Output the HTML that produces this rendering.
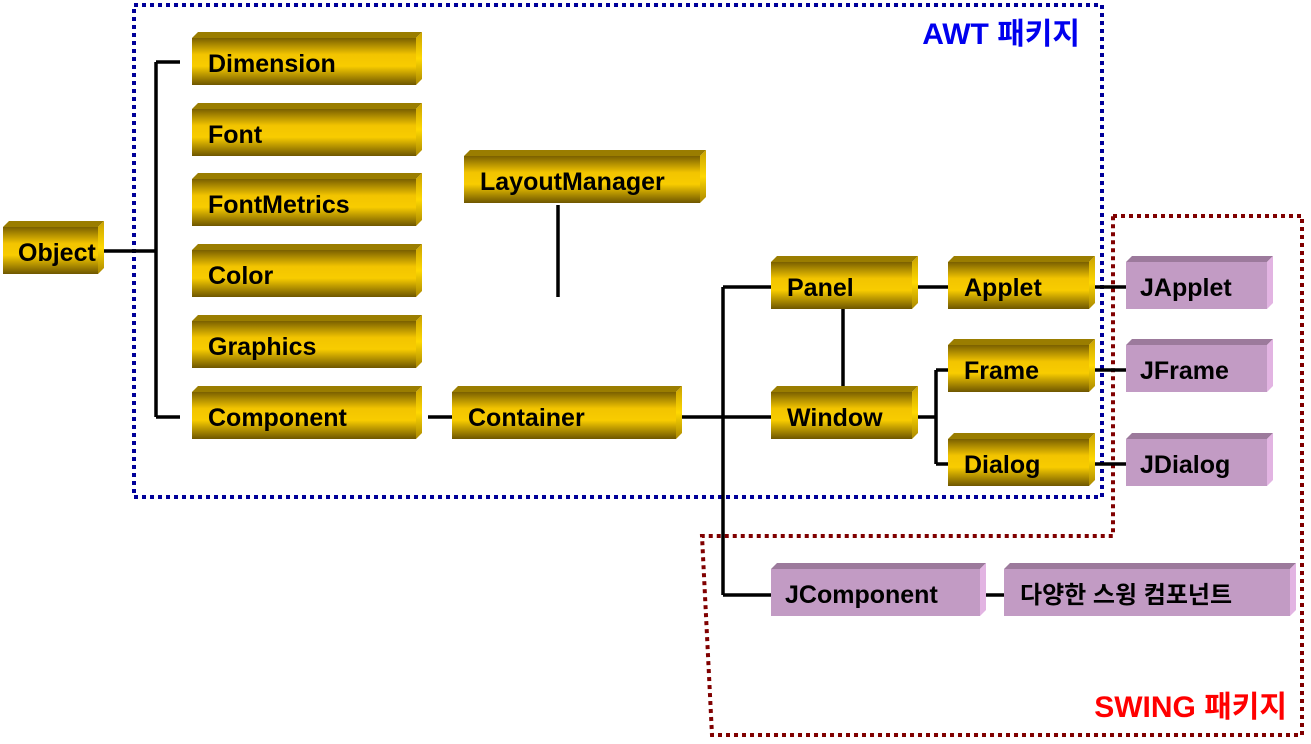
<!DOCTYPE html>
<html><head><meta charset="utf-8"><style>
html,body{margin:0;padding:0;background:#fff;width:1311px;height:744px;overflow:hidden}
text{font-family:"Liberation Sans","Noto Sans CJK KR",sans-serif;font-weight:bold}
</style></head><body>
<svg width="1311" height="744" viewBox="0 0 1311 744" xmlns="http://www.w3.org/2000/svg">
<defs>
<linearGradient id="gf" x1="0" y1="0" x2="0" y2="1">
<stop offset="0" stop-color="#7a6000"/><stop offset="0.35" stop-color="#f2c400"/><stop offset="0.6" stop-color="#f8cc00"/><stop offset="1" stop-color="#6e5600"/></linearGradient>
<linearGradient id="gs" x1="0" y1="0" x2="0" y2="1">
<stop offset="0" stop-color="#c9a200"/><stop offset="0.5" stop-color="#ffd800"/><stop offset="1" stop-color="#a88600"/></linearGradient>
</defs>
<g id="boxes"></g>
<!-- dotted frames -->
<rect x="134" y="5" width="968" height="492" fill="none" stroke="#000099" stroke-width="4" stroke-dasharray="4 4"/>
<polygon points="1113,216 1302,216 1302,735 712,735 702,536 1113,536" fill="none" stroke="#800000" stroke-width="4" stroke-dasharray="4 4"/>
<text x="1080" y="44" text-anchor="end" font-size="30" fill="#0000ee">AWT 패키지</text>
<text x="1287" y="717" text-anchor="end" font-size="30" fill="#ff0000">SWING 패키지</text>
<!-- lines -->
<g stroke="#000" stroke-width="3.5" fill="none">
<path d="M104 251H156M156 62V417M156 62H180M156 417H180"/>
<path d="M428 417H452M558 205V297M682 417H771M723 287V595M723 287H771M723 595H771"/>
<path d="M843 309V386M918 287H948M918 417H936M936 370V464M936 370H948M936 464H948"/>
<path d="M1095 287H1126M1095 370H1126M1095 464H1126M986 595H1004"/>
</g>
<!-- gold boxes -->
<g font-size="25">
<g transform="translate(3,221)"><polygon points="0,6 6,0 101,0 95,6" fill="#9a7d00"/><polygon points="95,6 101,0 101,47 95,53" fill="url(#gs)"/><rect x="0" y="6" width="95" height="47" fill="url(#gf)"/><text x="15" y="40">Object</text></g>
<g transform="translate(192,32)"><polygon points="0,6 6,0 230,0 224,6" fill="#9a7d00"/><polygon points="224,6 230,0 230,47 224,53" fill="url(#gs)"/><rect x="0" y="6" width="224" height="47" fill="url(#gf)"/><text x="16" y="40">Dimension</text></g>
<g transform="translate(192,103)"><polygon points="0,6 6,0 230,0 224,6" fill="#9a7d00"/><polygon points="224,6 230,0 230,47 224,53" fill="url(#gs)"/><rect x="0" y="6" width="224" height="47" fill="url(#gf)"/><text x="16" y="40">Font</text></g>
<g transform="translate(192,173)"><polygon points="0,6 6,0 230,0 224,6" fill="#9a7d00"/><polygon points="224,6 230,0 230,47 224,53" fill="url(#gs)"/><rect x="0" y="6" width="224" height="47" fill="url(#gf)"/><text x="16" y="40">FontMetrics</text></g>
<g transform="translate(192,244)"><polygon points="0,6 6,0 230,0 224,6" fill="#9a7d00"/><polygon points="224,6 230,0 230,47 224,53" fill="url(#gs)"/><rect x="0" y="6" width="224" height="47" fill="url(#gf)"/><text x="16" y="40">Color</text></g>
<g transform="translate(192,315)"><polygon points="0,6 6,0 230,0 224,6" fill="#9a7d00"/><polygon points="224,6 230,0 230,47 224,53" fill="url(#gs)"/><rect x="0" y="6" width="224" height="47" fill="url(#gf)"/><text x="16" y="40">Graphics</text></g>
<g transform="translate(192,386)"><polygon points="0,6 6,0 230,0 224,6" fill="#9a7d00"/><polygon points="224,6 230,0 230,47 224,53" fill="url(#gs)"/><rect x="0" y="6" width="224" height="47" fill="url(#gf)"/><text x="16" y="40">Component</text></g>
<g transform="translate(464,150)"><polygon points="0,6 6,0 242,0 236,6" fill="#9a7d00"/><polygon points="236,6 242,0 242,47 236,53" fill="url(#gs)"/><rect x="0" y="6" width="236" height="47" fill="url(#gf)"/><text x="16" y="40">LayoutManager</text></g>
<g transform="translate(452,386)"><polygon points="0,6 6,0 230,0 224,6" fill="#9a7d00"/><polygon points="224,6 230,0 230,47 224,53" fill="url(#gs)"/><rect x="0" y="6" width="224" height="47" fill="url(#gf)"/><text x="16" y="40">Container</text></g>
<g transform="translate(771,256)"><polygon points="0,6 6,0 147,0 141,6" fill="#9a7d00"/><polygon points="141,6 147,0 147,47 141,53" fill="url(#gs)"/><rect x="0" y="6" width="141" height="47" fill="url(#gf)"/><text x="16" y="40">Panel</text></g>
<g transform="translate(771,386)"><polygon points="0,6 6,0 147,0 141,6" fill="#9a7d00"/><polygon points="141,6 147,0 147,47 141,53" fill="url(#gs)"/><rect x="0" y="6" width="141" height="47" fill="url(#gf)"/><text x="16" y="40">Window</text></g>
<g transform="translate(948,256)"><polygon points="0,6 6,0 147,0 141,6" fill="#9a7d00"/><polygon points="141,6 147,0 147,47 141,53" fill="url(#gs)"/><rect x="0" y="6" width="141" height="47" fill="url(#gf)"/><text x="16" y="40">Applet</text></g>
<g transform="translate(948,339)"><polygon points="0,6 6,0 147,0 141,6" fill="#9a7d00"/><polygon points="141,6 147,0 147,47 141,53" fill="url(#gs)"/><rect x="0" y="6" width="141" height="47" fill="url(#gf)"/><text x="16" y="40">Frame</text></g>
<g transform="translate(948,433)"><polygon points="0,6 6,0 147,0 141,6" fill="#9a7d00"/><polygon points="141,6 147,0 147,47 141,53" fill="url(#gs)"/><rect x="0" y="6" width="141" height="47" fill="url(#gf)"/><text x="16" y="40">Dialog</text></g>
<!-- purple boxes -->
<g transform="translate(1126,256)"><polygon points="0,6 6,0 147,0 141,6" fill="#9c7a9c"/><polygon points="141,6 147,0 147,47 141,53" fill="#e2b4e2"/><rect x="0" y="6" width="141" height="47" fill="#c29bc4"/><text x="14" y="40">JApplet</text></g>
<g transform="translate(1126,339)"><polygon points="0,6 6,0 147,0 141,6" fill="#9c7a9c"/><polygon points="141,6 147,0 147,47 141,53" fill="#e2b4e2"/><rect x="0" y="6" width="141" height="47" fill="#c29bc4"/><text x="14" y="40">JFrame</text></g>
<g transform="translate(1126,433)"><polygon points="0,6 6,0 147,0 141,6" fill="#9c7a9c"/><polygon points="141,6 147,0 147,47 141,53" fill="#e2b4e2"/><rect x="0" y="6" width="141" height="47" fill="#c29bc4"/><text x="14" y="40">JDialog</text></g>
<g transform="translate(771,563)"><polygon points="0,6 6,0 215,0 209,6" fill="#9c7a9c"/><polygon points="209,6 215,0 215,47 209,53" fill="#e2b4e2"/><rect x="0" y="6" width="209" height="47" fill="#c29bc4"/><text x="14" y="40">JComponent</text></g>
<g transform="translate(1004,563)"><polygon points="0,6 6,0 292,0 286,6" fill="#9c7a9c"/><polygon points="286,6 292,0 292,47 286,53" fill="#e2b4e2"/><rect x="0" y="6" width="286" height="47" fill="#c29bc4"/><text x="16" y="40" font-size="24" font-weight="normal">다양한 스윙 컴포넌트</text></g>
</g>
</svg>
</body></html>
